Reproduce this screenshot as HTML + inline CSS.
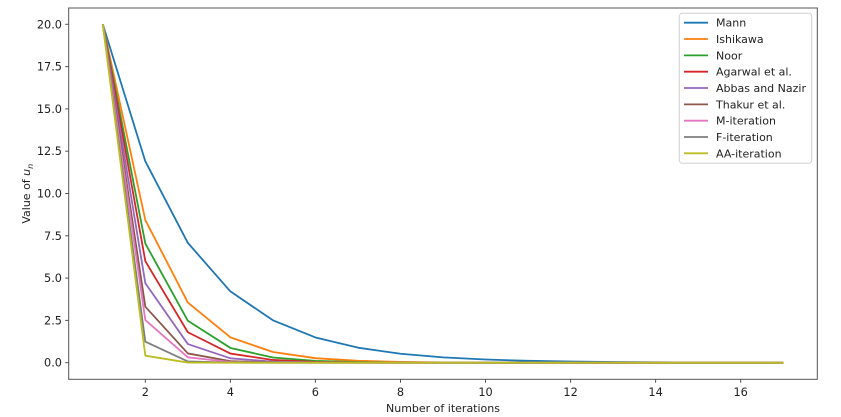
<!DOCTYPE html>
<html>
<head>
<meta charset="utf-8">
<style>
html,body{margin:0;padding:0;background:#fff;}
svg{display:block;}
text{font-family:"DejaVu Sans","Liberation Sans",sans-serif;fill:#222;}
</style>
</head>
<body>
<svg width="841" height="417" viewBox="0 0 841 417" xmlns="http://www.w3.org/2000/svg">
<rect x="0" y="0" width="841" height="417" fill="#fff"/>
<!-- data series: local coords (n-1, value) -->
<g transform="translate(102.8,362.7) scale(42.53,-16.92)" fill="none" stroke-width="1.8" stroke-linejoin="round" stroke-linecap="butt">
<polyline vector-effect="non-scaling-stroke" stroke="#1f77b4" points="0,20 1,11.9 2,7.0805 3,4.2129 4,2.5067 5,1.4915 6,0.8874 7,0.528 8,0.3142 9,0.1869 10,0.1112 11,0.0662 12,0.0394 13,0.0234 14,0.0139 15,0.0083 16,0.0049"/>
<polyline vector-effect="non-scaling-stroke" stroke="#ff7f0e" points="0,20 1,8.43 2,3.553 3,1.4977 4,0.6313 5,0.2661 6,0.1122 7,0.0473 8,0.0199 9,0.0084 10,0.0035 11,0.0015 12,0 13,0 14,0 15,0 16,0"/>
<polyline vector-effect="non-scaling-stroke" stroke="#2ca02c" points="0,20 1,7.04 2,2.478 3,0.8723 4,0.3071 5,0.1081 6,0.038 7,0.0134 8,0.0047 9,0.0017 10,0 11,0 12,0 13,0 14,0 15,0 16,0"/>
<polyline vector-effect="non-scaling-stroke" stroke="#d62728" points="0,20 1,6 2,1.8 3,0.54 4,0.162 5,0.0486 6,0.0146 7,0.0044 8,0.0013 9,0 10,0 11,0 12,0 13,0 14,0 15,0 16,0"/>
<polyline vector-effect="non-scaling-stroke" stroke="#9467bd" points="0,20 1,4.694 2,1.1017 3,0.2586 4,0.0607 5,0.0142 6,0.0033 7,0 8,0 9,0 10,0 11,0 12,0 13,0 14,0 15,0 16,0"/>
<polyline vector-effect="non-scaling-stroke" stroke="#8c564b" points="0,20 1,3.31 2,0.5478 3,0.0907 4,0.015 5,0.0025 6,0 7,0 8,0 9,0 10,0 11,0 12,0 13,0 14,0 15,0 16,0"/>
<polyline vector-effect="non-scaling-stroke" stroke="#e377c2" points="0,20 1,2.52 2,0.3175 3,0.04 4,0.005 5,0 6,0 7,0 8,0 9,0 10,0 11,0 12,0 13,0 14,0 15,0 16,0"/>
<polyline vector-effect="non-scaling-stroke" stroke="#7f7f7f" points="0,20 1,1.24 2,0.0769 3,0.0048 4,0 5,0 6,0 7,0 8,0 9,0 10,0 11,0 12,0 13,0 14,0 15,0 16,0"/>
<polyline vector-effect="non-scaling-stroke" stroke="#bcbd22" points="0,20 1,0.414 2,0.0086 3,0.0002 4,0 5,0 6,0 7,0 8,0 9,0 10,0 11,0 12,0 13,0 14,0 15,0 16,0"/>
</g>
<!-- axes frame -->
<rect x="68.7" y="8" width="748.6" height="371.3" fill="none" stroke="#555" stroke-width="1"/>
<!-- y ticks -->
<g stroke="#555" stroke-width="1">
<line x1="65.2" x2="68.7" y1="362.7" y2="362.7"/>
<line x1="65.2" x2="68.7" y1="320.4" y2="320.4"/>
<line x1="65.2" x2="68.7" y1="278.1" y2="278.1"/>
<line x1="65.2" x2="68.7" y1="235.8" y2="235.8"/>
<line x1="65.2" x2="68.7" y1="193.5" y2="193.5"/>
<line x1="65.2" x2="68.7" y1="151.2" y2="151.2"/>
<line x1="65.2" x2="68.7" y1="108.9" y2="108.9"/>
<line x1="65.2" x2="68.7" y1="66.6" y2="66.6"/>
<line x1="65.2" x2="68.7" y1="24.3" y2="24.3"/>
</g>
<g font-size="11.3" text-anchor="end">
<text x="62" y="366.7">0.0</text>
<text x="62" y="324.4">2.5</text>
<text x="62" y="282.1">5.0</text>
<text x="62" y="239.8">7.5</text>
<text x="62" y="197.5">10.0</text>
<text x="62" y="155.2">12.5</text>
<text x="62" y="112.9">15.0</text>
<text x="62" y="70.6">17.5</text>
<text x="62" y="28.3">20.0</text>
</g>
<!-- x ticks -->
<g stroke="#555" stroke-width="1">
<line x1="145.3" x2="145.3" y1="379.3" y2="382.8"/>
<line x1="230.4" x2="230.4" y1="379.3" y2="382.8"/>
<line x1="315.4" x2="315.4" y1="379.3" y2="382.8"/>
<line x1="400.5" x2="400.5" y1="379.3" y2="382.8"/>
<line x1="485.5" x2="485.5" y1="379.3" y2="382.8"/>
<line x1="570.6" x2="570.6" y1="379.3" y2="382.8"/>
<line x1="655.6" x2="655.6" y1="379.3" y2="382.8"/>
<line x1="740.7" x2="740.7" y1="379.3" y2="382.8"/>
</g>
<g font-size="11.3" text-anchor="middle">
<text x="145.3" y="396">2</text>
<text x="230.4" y="396">4</text>
<text x="315.4" y="396">6</text>
<text x="400.5" y="396">8</text>
<text x="485.5" y="396">10</text>
<text x="570.6" y="396">12</text>
<text x="655.6" y="396">14</text>
<text x="740.7" y="396">16</text>
</g>
<text x="443" y="412" font-size="11" text-anchor="middle">Number of iterations</text>
<text transform="translate(30,193.7) rotate(-90)" font-size="11" text-anchor="middle">Value of <tspan font-style="italic">u</tspan><tspan font-style="italic" font-size="8" dy="3">n</tspan></text>
<!-- legend -->
<rect x="679.3" y="13.3" width="132.4" height="150" rx="3" ry="3" fill="#fff" fill-opacity="0.85" stroke="#d0d0d0" stroke-width="1"/>
<g stroke-width="1.8">
<line x1="684" x2="708" y1="22.7" y2="22.7" stroke="#1f77b4"/>
<line x1="684" x2="708" y1="39" y2="39" stroke="#ff7f0e"/>
<line x1="684" x2="708" y1="55.4" y2="55.4" stroke="#2ca02c"/>
<line x1="684" x2="708" y1="71.7" y2="71.7" stroke="#d62728"/>
<line x1="684" x2="708" y1="88" y2="88" stroke="#9467bd"/>
<line x1="684" x2="708" y1="104.4" y2="104.4" stroke="#8c564b"/>
<line x1="684" x2="708" y1="120.7" y2="120.7" stroke="#e377c2"/>
<line x1="684" x2="708" y1="137" y2="137" stroke="#7f7f7f"/>
<line x1="684" x2="708" y1="153.3" y2="153.3" stroke="#bcbd22"/>
</g>
<g font-size="11">
<text x="716" y="26.7">Mann</text>
<text x="716" y="43">Ishikawa</text>
<text x="716" y="59.4">Noor</text>
<text x="716" y="75.7">Agarwal et al.</text>
<text x="716" y="92">Abbas and Nazir</text>
<text x="716" y="108.4">Thakur et al.</text>
<text x="716" y="124.7">M-iteration</text>
<text x="716" y="141">F-iteration</text>
<text x="716" y="157.3">AA-iteration</text>
</g>
</svg>
</body>
</html>
